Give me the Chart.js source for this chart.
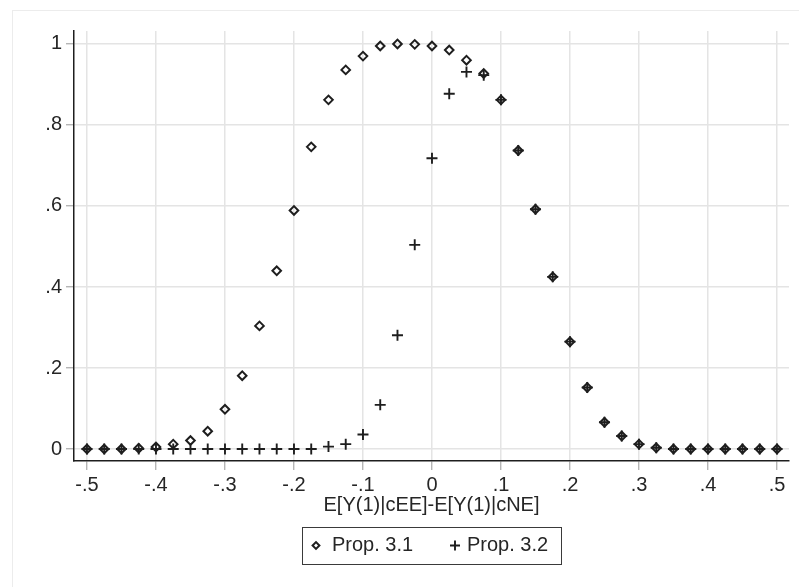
<!DOCTYPE html>
<html>
<head>
<meta charset="utf-8">
<title>Prop. 3.1 vs Prop. 3.2</title>
<script src="https://cdn.jsdelivr.net/npm/chart.js@4.4.1/dist/chart.umd.min.js"></script>
<style>
  html, body { margin: 0; padding: 0; background: #fff; }
  #wrap { width: 799px; height: 587px; }
</style>
</head>
<body>
<div id="wrap"><canvas id="chart" width="799" height="587"></canvas></div>
<script>
const xValues = [
  -0.5, -0.475, -0.45, -0.425, -0.4, -0.375, -0.35, -0.325, -0.3, -0.275,
  -0.25, -0.225, -0.2, -0.175, -0.15, -0.125, -0.1, -0.075, -0.05, -0.025,
  0, 0.025, 0.05, 0.075, 0.1, 0.125, 0.15, 0.175, 0.2, 0.225,
  0.25, 0.275, 0.3, 0.325, 0.35, 0.375, 0.4, 0.425, 0.45, 0.475, 0.5,
];
const prop31 = [
  0, 0, 0, 0.002, 0.005, 0.012, 0.021, 0.044, 0.098, 0.181,
  0.304, 0.44, 0.589, 0.746, 0.862, 0.936, 0.970, 0.995, 1.0, 0.999,
  0.995, 0.985, 0.960, 0.927, 0.862, 0.737, 0.592, 0.425, 0.265, 0.152,
  0.066, 0.032, 0.012, 0.003, 0, 0, 0, 0, 0, 0, 0,
];
const prop32 = [
  0, 0, 0, 0, 0, 0, 0, 0, 0, 0,
  0, 0, 0, 0, 0.006, 0.012, 0.036, 0.109, 0.281, 0.504,
  0.718, 0.877, 0.931, 0.923, 0.862, 0.737, 0.592, 0.425, 0.265, 0.152,
  0.066, 0.032, 0.012, 0.003, 0, 0, 0, 0, 0, 0, 0,
];
const seriesLabels = ['Prop. 3.1', 'Prop. 3.2'];
const xTicks = [-0.5, -0.4, -0.3, -0.2, -0.1, 0, 0.1, 0.2, 0.3, 0.4, 0.5];
const xTickLabels = ['-.5', '-.4', '-.3', '-.2', '-.1', '0', '.1', '.2', '.3', '.4', '.5'];
const yTicks = [0, 0.2, 0.4, 0.6, 0.8, 1];
const yTickLabels = ['0', '.2', '.4', '.6', '.8', '1'];
const xTitle = 'E[Y(1)|cEE]-E[Y(1)|cNE]';

const INK = '#1e1e1e';
const TEXT = '#262626';
const GRID = '#e4e4e4';
const TICK = '#a8a8a8';
const FONT = "'Liberation Sans', Arial, Helvetica, sans-serif";

function points(ys) {
  return xValues.map((x, i) => ({ x, y: ys[i] }));
}

function fixedTicks(values) {
  return scale => { scale.ticks = values.map(v => ({ value: v })); };
}

function tickLabel(values, labels) {
  return v => labels[values.findIndex(t => Math.abs(t - v) < 1e-9)];
}

// faint outer frame + boxed legend, the way Stata lays them out
const stataDecor = {
  id: 'stataDecor',
  beforeDraw(chart) {
    const ctx = chart.ctx;
    ctx.save();
    ctx.fillStyle = '#fff';
    ctx.fillRect(0, 0, chart.width, chart.height);
    ctx.strokeStyle = '#ececec';
    ctx.lineWidth = 1;
    ctx.strokeRect(12.5, 10.5, 900, 700);
    ctx.restore();
  },
  afterDraw(chart) {
    const ctx = chart.ctx;
    const box = { left: 302, top: 527, width: 259, height: 37 };
    const cy = box.top + box.height / 2;
    const marks = [{ x: 316, tx: 332, r: 3.4 }, { x: 455, tx: 467, r: 5 }];
    ctx.save();
    ctx.strokeStyle = '#3a3a3a';
    ctx.lineWidth = 1;
    ctx.strokeRect(box.left + 0.5, box.top + 0.5, box.width, box.height);
    chart.data.datasets.forEach((ds, i) => {
      ctx.strokeStyle = INK;
      ctx.fillStyle = 'rgba(0,0,0,0)';
      ctx.lineWidth = ds.pointBorderWidth;
      Chart.helpers.drawPoint(ctx, {
        pointStyle: ds.pointStyle, radius: marks[i].r, borderWidth: ds.pointBorderWidth, rotation: 0,
      }, marks[i].x, cy);
      ctx.fillStyle = TEXT;
      ctx.font = `20px ${FONT}`;
      ctx.textAlign = 'left';
      ctx.textBaseline = 'middle';
      ctx.fillText(ds.label, marks[i].tx, cy);
    });
    ctx.restore();
  },
};

const chart = new Chart(document.getElementById('chart'), {
  type: 'scatter',
  data: {
    datasets: [
      {
        label: seriesLabels[0],
        data: points(prop31),
        pointStyle: 'rectRot',
        pointRadius: 4.3,
        pointBorderWidth: 2,
        pointBorderColor: INK,
        pointBackgroundColor: 'rgba(0,0,0,0)',
      },
      {
        label: seriesLabels[1],
        data: points(prop32),
        pointStyle: 'cross',
        pointRadius: 5.5,
        pointBorderWidth: 1.9,
        pointBorderColor: INK,
      },
    ],
  },
  options: {
    responsive: false,
    animation: false,
    events: [],
    layout: { padding: { top: 31, right: 10, bottom: 70, left: 0 } },
    plugins: { legend: { display: false }, tooltip: { enabled: false } },
    scales: {
      x: {
        type: 'linear',
        min: -0.5188,
        max: 0.5174,
        afterBuildTicks: fixedTicks(xTicks),
        afterFit: s => { s.height = 56; },
        grid: { color: GRID, lineWidth: 1.5, tickLength: 9, tickColor: TICK, tickWidth: 1.2 },
        border: { display: true, color: INK, width: 1.5 },
        ticks: {
          callback: tickLabel(xTicks, xTickLabels),
          font: { size: 20, family: FONT },
          color: TEXT,
          padding: 3,
          maxRotation: 0,
          autoSkip: false,
        },
        title: { display: true, text: xTitle, font: { size: 20, family: FONT }, color: TEXT, padding: 0 },
      },
      y: {
        type: 'linear',
        min: -0.0296,
        max: 1.032,
        afterBuildTicks: fixedTicks(yTicks),
        afterFit: s => { s.width = 74; },
        grid: { color: GRID, lineWidth: 1.5, tickLength: 8, tickColor: TICK, tickWidth: 1.2 },
        border: { display: true, color: INK, width: 1.5 },
        ticks: {
          callback: tickLabel(yTicks, yTickLabels),
          font: { size: 20, family: FONT },
          color: TEXT,
          padding: 4,
          autoSkip: false,
        },
      },
    },
  },
  plugins: [stataDecor],
});
</script>
</body>
</html>
